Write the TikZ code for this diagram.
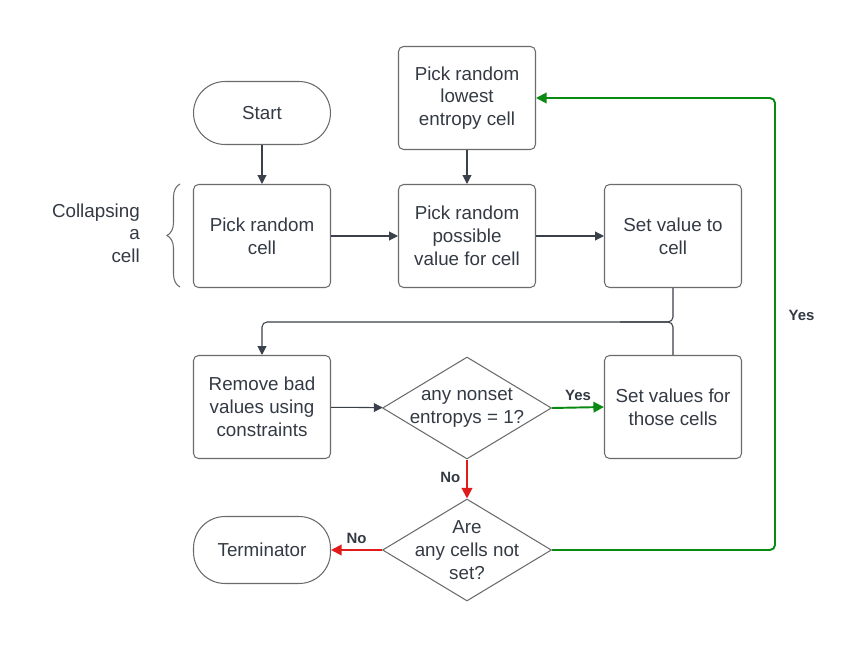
\documentclass[tikz,border=0pt]{standalone}
\usepackage{fontspec}
\setmainfont{Liberation Sans}
\usepackage{xcolor}
\usetikzlibrary{shapes,arrows.meta,positioning,calc,decorations.pathreplacing}

\definecolor{boxgray}{HTML}{6B6B6B}
\definecolor{linegray}{HTML}{3A414A}
\definecolor{textdark}{HTML}{333A44}
\definecolor{yesgreen}{HTML}{0A8A12}
\definecolor{nored}{HTML}{E01B1B}

\begin{document}
\begin{tikzpicture}[
    x=0.02cm, y=-0.02cm,
    every node/.style={text=textdark},
    process/.style={rectangle, draw=boxgray, line width=0.6pt, rounded corners=0.1cm,
        minimum width=2.74cm, minimum height=2.06cm, align=center,
        font=\fontsize{10.7}{13}\selectfont},
    terminal/.style={rectangle, draw=boxgray, line width=0.6pt, rounded corners=0.63cm,
        minimum width=2.74cm, minimum height=1.26cm, align=center,
        font=\fontsize{10.7}{13}\selectfont},
    decision/.style={diamond, draw=boxgray, line width=0.6pt, inner sep=0pt,
        minimum width=3.38cm, minimum height=2.04cm},
    decisiontext/.style={align=center, font=\fontsize{10.7}{13}\selectfont},
    arrow/.style={-{Triangle[length=5pt,width=5pt]}, draw=linegray, line width=0.6pt},
    yesarrow/.style={-{Triangle[length=6pt,width=6pt]}, draw=yesgreen, line width=1.1pt},
    noarrow/.style={-{Triangle[length=6pt,width=6pt]}, draw=nored, line width=1.1pt},
    choice/.style={font=\fontsize{8.5}{10}\selectfont\bfseries}
]
\useasboundingbox (0,0) rectangle (850,649);

% top row
\node[terminal] (start) at (262,113) {Start};
\node[process] (lowest) at (467,98) {Pick random\\lowest\\entropy cell};

% collapsing a cell
\node[process] (pickcell) at (262,236) {Pick random\\cell};
\node[process] (pickvalue) at (467,236) {Pick random\\possible\\value for cell};
\node[process] (setvalue) at (673,236) {Set value to\\cell};
\draw[boxgray, line width=0.6pt, decorate,
    decoration={brace, amplitude=0.26cm}] (180,287) -- (180,184);
\node[anchor=east, align=right, font=\fontsize{10.7}{12.8}\selectfont]
    (collapse) at (146,233) {Collapsing\\a\\cell};

% propagation
\node[process] (remove) at (262,407) {Remove bad\\values using\\constraints};
\node[decision] (nonset) at (467,408) {};
\node[decisiontext] (nonsettext) at (nonset) {any nonset\\entropys = 1?};
\node[process] (setvalues) at (673,407) {Set values for\\those cells};

% end check
\node[decision] (notset) at (467,550) {};
\node[decisiontext] (notsettext) at (notset) {Are\\any cells not\\set?};
\node[terminal, minimum height=1.34cm] (term) at (262,550) {Terminator};

\coordinate (merge) at (620,322);
\coordinate (loop) at (775,322);

\draw[arrow] (start) -- (pickcell);
\draw[arrow] (pickcell) -- (pickvalue);
\draw[arrow] (lowest) -- (pickvalue);
\draw[arrow] (pickvalue) -- (setvalue);
\draw[arrow, rounded corners=0.1cm] (setvalue.south) |- (merge) -| (remove.north);
\draw[linegray, line width=0.6pt, rounded corners=0.1cm] (setvalues.north) |- (merge);
\draw[arrow] (remove) -- (nonset);

\draw[yesarrow] (nonset.east) -- node[above, choice] {Yes} (setvalues.west);
\draw[noarrow] (nonset.south) -- node[left, choice, pos=0.45] {No} (notset.north);
\draw[noarrow] (notset.west) -- node[above, choice] {No} (term.east);
\draw[yesarrow, rounded corners=0.1cm] (notset.east) -| (loop) |- (lowest.east);
\node[choice, right=0.15cm of loop, yshift=0.14cm] (loopyes) {Yes};
\end{tikzpicture}
\end{document}
